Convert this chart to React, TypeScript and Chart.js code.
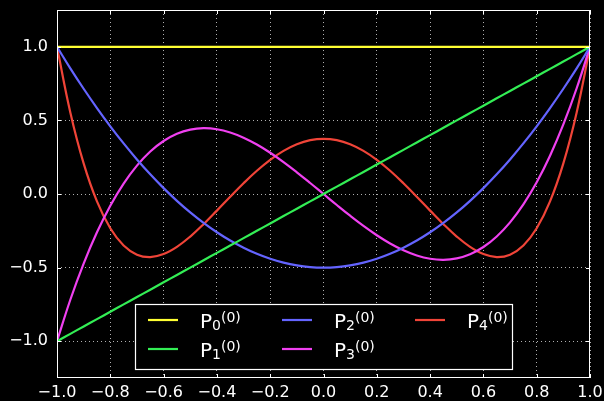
import React, { useEffect, useRef } from "react";
import { Chart, registerables } from "chart.js";

Chart.register(...registerables);

// Sample positions on [-1, 1]
const xs = [
  -1, -0.95, -0.9, -0.85, -0.8, -0.75, -0.7, -0.65, -0.6, -0.55, -0.5, -0.45, -0.4, -0.35, -0.3, -0.25, -0.2, -0.15, -0.1, -0.05,
  0, 0.05, 0.1, 0.15, 0.2, 0.25, 0.3, 0.35, 0.4, 0.45, 0.5, 0.55, 0.6, 0.65, 0.7, 0.75, 0.8, 0.85, 0.9, 0.95, 1,
];

const p0 = [
  1, 1, 1, 1, 1, 1, 1, 1, 1, 1, 1, 1, 1, 1, 1, 1, 1, 1, 1, 1,
  1, 1, 1, 1, 1, 1, 1, 1, 1, 1, 1, 1, 1, 1, 1, 1, 1, 1, 1, 1, 1,
];

const p1 = [
  -1, -0.95, -0.9, -0.85, -0.8, -0.75, -0.7, -0.65, -0.6, -0.55, -0.5, -0.45, -0.4, -0.35, -0.3, -0.25, -0.2, -0.15, -0.1, -0.05,
  0, 0.05, 0.1, 0.15, 0.2, 0.25, 0.3, 0.35, 0.4, 0.45, 0.5, 0.55, 0.6, 0.65, 0.7, 0.75, 0.8, 0.85, 0.9, 0.95, 1,
];

const p2 = [
  1, 0.8538, 0.715, 0.5838, 0.46, 0.3438, 0.235, 0.1338, 0.04, -0.0463, -0.125, -0.1963, -0.26, -0.3163, -0.365, -0.4063, -0.44, -0.4663, -0.485, -0.4963,
  -0.5, -0.4963, -0.485, -0.4663, -0.44, -0.4063, -0.365, -0.3163, -0.26, -0.1963, -0.125, -0.0463, 0.04, 0.1338, 0.235, 0.3438, 0.46, 0.5838, 0.715, 0.8538, 1,
];

const p3 = [
  -1, -0.7184, -0.4725, -0.2603, -0.08, 0.0703, 0.1925, 0.2884, 0.36, 0.4091, 0.4375, 0.4472, 0.44, 0.4178, 0.3825, 0.3359, 0.28, 0.2166, 0.1475, 0.0747,
  0, -0.0747, -0.1475, -0.2166, -0.28, -0.3359, -0.3825, -0.4178, -0.44, -0.4472, -0.4375, -0.4091, -0.36, -0.2884, -0.1925, -0.0703, 0.08, 0.2603, 0.4725, 0.7184, 1,
];

const p4 = [
  1, 0.5541, 0.2079, -0.0506, -0.233, -0.3501, -0.4121, -0.4284, -0.408, -0.359, -0.2891, -0.205, -0.113, -0.0187, 0.0729, 0.1577, 0.232, 0.2928, 0.3379, 0.3657,
  0.375, 0.3657, 0.3379, 0.2928, 0.232, 0.1577, 0.0729, -0.0187, -0.113, -0.205, -0.2891, -0.359, -0.408, -0.4284, -0.4121, -0.3501, -0.233, -0.0506, 0.2079, 0.5541, 1,
];

const xTicks = [-1, -0.8, -0.6, -0.4, -0.2, 0, 0.2, 0.4, 0.6, 0.8, 1];
const yTicks = [-1, -0.5, 0, 0.5, 1];

const seriesLabels = ["0", "1", "2", "3", "4"];
const seriesColors = ["#ffff33", "#33ee55", "#6464ff", "#f040f0", "#f04438"];
const seriesValues = [p0, p1, p2, p3, p4];

const FONT = "'DejaVu Sans', sans-serif";

const fmt = (v: number) => {
  const s = Math.abs(v).toFixed(1);
  return v < -1e-9 ? "\u2212" + s : s;
};

// Frame, inward tick marks and the three-column legend
const decorPlugin = {
  id: "decor",
  afterDatasetsDraw(chart: any) {
    const { ctx, chartArea: a, scales } = chart;
    ctx.save();
    ctx.strokeStyle = "#ffffff";
    ctx.lineWidth = 1;
    ctx.setLineDash([]);
    ctx.strokeRect(a.left + 0.5, a.top + 0.5, a.right - a.left - 1, a.bottom - a.top - 1);
    const tl = 4;
    ctx.beginPath();
    for (const v of xTicks) {
      const px = Math.round(scales.x.getPixelForValue(v)) + 0.5;
      ctx.moveTo(px, a.bottom);
      ctx.lineTo(px, a.bottom - tl);
      ctx.moveTo(px, a.top);
      ctx.lineTo(px, a.top + tl);
    }
    for (const v of yTicks) {
      const py = Math.round(scales.y.getPixelForValue(v)) + 0.5;
      ctx.moveTo(a.left, py);
      ctx.lineTo(a.left + tl, py);
      ctx.moveTo(a.right, py);
      ctx.lineTo(a.right - tl, py);
    }
    ctx.stroke();

    // legend box
    const bx = 135, by = 304, bw = 377, bh = 65;
    ctx.fillStyle = "#000000";
    ctx.fillRect(bx, by, bw, bh);
    ctx.strokeStyle = "#ffffff";
    ctx.lineWidth = 1.2;
    ctx.strokeRect(bx + 0.5, by + 0.5, bw, bh);

    const cols = [148, 282, 415];
    const rows = [320, 349];
    seriesLabels.forEach((lab, i) => {
      const col = Math.floor(i / 2);
      const row = i % 2;
      const lx = cols[col];
      const ly = rows[row];
      ctx.strokeStyle = seriesColors[i];
      ctx.lineWidth = 2.2;
      ctx.beginPath();
      ctx.moveTo(lx, ly);
      ctx.lineTo(lx + 30, ly);
      ctx.stroke();
      ctx.fillStyle = "#ffffff";
      ctx.textBaseline = "alphabetic";
      ctx.textAlign = "left";
      let tx = lx + 52;
      const base = ly + 7.5;
      ctx.font = `20px ${FONT}`;
      ctx.fillText("P", tx, base);
      tx += ctx.measureText("P").width;
      ctx.font = `14px ${FONT}`;
      ctx.fillText(lab, tx, base + 2);
      tx += ctx.measureText(lab).width;
      ctx.fillText("(0)", tx, base - 6);
    });
    ctx.restore();
  },
};

export default function App() {
  const ref = useRef<HTMLCanvasElement>(null);

  useEffect(() => {
    if (!ref.current) return;
    const chart = new Chart(ref.current, {
      type: "line",
      data: {
        datasets: seriesValues.map((vals, i) => ({
          label: "P" + seriesLabels[i],
          data: xs.map((x, j) => ({ x, y: vals[j] })),
          borderColor: seriesColors[i],
          borderWidth: 2.2,
          pointRadius: 0,
          tension: 0.4,
          fill: false,
        })),
      },
      options: {
        animation: false,
        responsive: false,
        layout: { padding: { top: 10, right: 14, left: 0, bottom: 0 } },
        plugins: { legend: { display: false }, tooltip: { enabled: false } },
        scales: {
          x: {
            type: "linear",
            min: -1,
            max: 1,
            afterBuildTicks: (s: any) => {
              s.ticks = xTicks.map((v) => ({ value: v }));
            },
            afterFit: (s: any) => {
              s.height = 23;
              s.paddingLeft = 0;
              s.paddingRight = 0;
            },
            grid: { color: "#b0b0b0", lineWidth: 1, drawTicks: false },
            border: { display: false, dash: [1, 3] },
            ticks: {
              color: "#ffffff",
              font: { family: FONT, size: 16 },
              padding: 5,
              maxRotation: 0,
              autoSkip: false,
              callback: (v: any) => fmt(Number(v)),
            },
          },
          y: {
            type: "linear",
            min: -1.25,
            max: 1.25,
            afterBuildTicks: (s: any) => {
              s.ticks = yTicks.map((v) => ({ value: v }));
            },
            afterFit: (s: any) => {
              s.width = 57;
              s.paddingTop = 0;
              s.paddingBottom = 0;
            },
            grid: { color: "#b0b0b0", lineWidth: 1, drawTicks: false },
            border: { display: false, dash: [1, 3] },
            ticks: {
              color: "#ffffff",
              font: { family: FONT, size: 16 },
              padding: 9,
              autoSkip: false,
              callback: (v: any) => fmt(Number(v)),
            },
          },
        },
      },
      plugins: [decorPlugin],
    });
    return () => chart.destroy();
  }, []);

  return (
    <div style={{ position: "fixed", left: 0, top: 0, width: 604, height: 401, background: "#000" }}>
      <canvas ref={ref} width={604} height={401} style={{ display: "block" }} />
    </div>
  );
}
